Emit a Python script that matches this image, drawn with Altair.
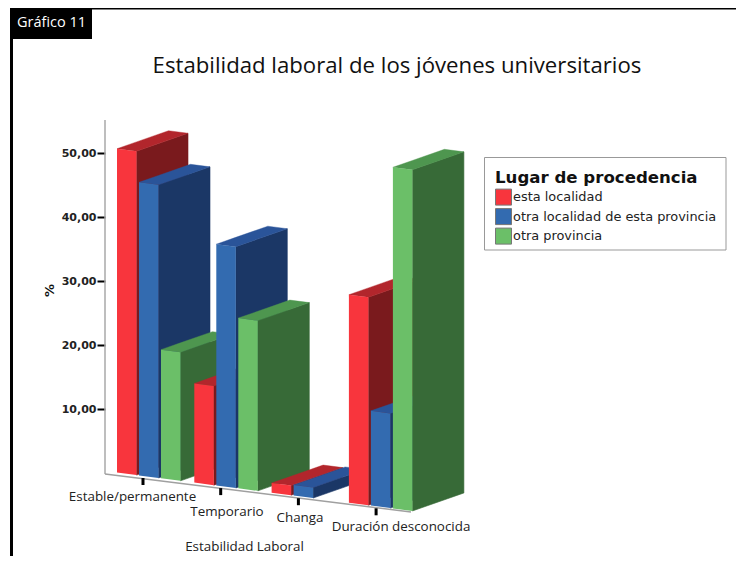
import altair as alt
import pandas as pd

categories = ["Estable/permanente", "Temporario", "Changa", "Duración desconocida"]
origins = ["esta localidad", "otra localidad de esta provincia", "otra provincia"]
esta_localidad = [50.6, 15.5, 1.5, 32.5]
otra_localidad = [45.8, 37.7, 1.65, 14.8]
otra_provincia = [20.1, 26.6, None, 53.3]
y_ticks = [10, 20, 30, 40, 50]

front_colors = ["#f8353d", "#336bb0", "#6bbf68"]
side_colors = ["#7a1a1d", "#1b3766", "#376a37"]
top_colors = ["#b2262c", "#2a5499", "#4e964f"]

W, H = 728, 548
PX = 6.4            # pixels per percent point
ZERO_Y = 473        # page y of 0 %
to_pct = lambda page_y: (ZERO_Y - page_y) / PX

xs = alt.Scale(domain=[8, 8 + W], range=[0, W], nice=False, zero=False)
ys = alt.Scale(domain=[to_pct(8 + H), to_pct(8)], range=[H, 0], nice=False, zero=False)
color_enc = alt.Color("lugar:N", scale=alt.Scale(domain=origins, range=front_colors),
                      legend=alt.Legend(title="Lugar de procedencia", orient="none",
                                        legendX=477, legendY=152))

X = alt.X("x:Q", scale=xs, axis=None)
Y = alt.Y("y:Q", scale=ys, axis=None)
Y2 = alt.Y2("y2:Q")


def base(x):
    return to_pct(471 + 0.13 * (x - 105))


def bar_layers(i, j, value):
    bw, dx, dy = 19.5, 51.5, 18 / PX
    xl = 117 + 77.3 * i + 22 * j
    xr = xl + bw
    top = lambda x: base(x) + value
    bot = lambda x: base(x)
    side = pd.DataFrame({"x": [xr, xr + dx],
                         "y": [top(xr), top(xr) + dy],
                         "y2": [bot(xr), bot(xr) + dy]})
    # top face: parallelogram described as upper/lower edges over four x stops
    front_edge = lambda x: top(xl) + (top(xr) - top(xl)) * (x - xl) / bw if x <= xr else top(xr) + dy * (x - xr) / dx
    back_edge = lambda x: top(xl) + dy * (x - xl) / dx if x <= xl + dx else top(xl) + dy + (top(xr) - top(xl)) * (x - xl - dx) / bw
    stops = [xl, xr, xl + dx, xr + dx]
    topf = pd.DataFrame({"x": stops,
                         "y": [back_edge(s) for s in stops],
                         "y2": [front_edge(s) for s in stops]})
    front = pd.DataFrame({"x": [xl, xr], "y": [top(xl), top(xr)], "y2": [bot(xl), bot(xr)],
                          "lugar": [origins[j]] * 2})
    return [
        alt.Chart(side).mark_area(orient="vertical", color=side_colors[j], stroke=side_colors[j], strokeWidth=0.6)
        .encode(x=X, y=Y, y2=Y2),
        alt.Chart(topf).mark_area(orient="vertical", color=top_colors[j], stroke=top_colors[j], strokeWidth=0.4)
        .encode(x=X, y=Y, y2=Y2),
        alt.Chart(front).mark_area(orient="vertical").encode(x=X, y=Y, y2=Y2, color=color_enc),
    ]


layers = []

# axes carried by an invisible layer
axis_df = pd.DataFrame({"x": [105], "y": [0]})
layers.append(
    alt.Chart(axis_df).mark_point(opacity=0).encode(
        x=alt.X("x:Q", scale=xs, title="Estabilidad Laboral",
                axis=alt.Axis(labels=False, ticks=False, domain=False, grid=False,
                              titleX=236, titleY=-17, titleFont="Open Sans", titleFontSize=13.4,
                              titleFontWeight="normal", titleColor="#222", titleAnchor="middle",
                              titleAlign="center")),
        y=alt.Y("y:Q", scale=ys, title="%",
                axis=alt.Axis(values=y_ticks, offset=-97, domain=False, grid=False,
                              tickSize=8, tickWidth=2, tickColor="#000", labelPadding=1,
                              labelFont="DejaVu Sans", labelFontSize=11, labelFontWeight="bold",
                              labelColor="#222",
                              labelExpr="replace(format(datum.value, '.2f'), '.', ',')",
                              titleFont="DejaVu Sans", titleFontSize=13, titleFontWeight="bold",
                              titleColor="#111", titleAngle=270, titleX=-49, titleY=282)),
    )
)

# y axis line and floor line
layers.append(alt.Chart(pd.DataFrame({"x": [105, 105], "y": [to_pct(120), to_pct(474)]}))
              .mark_line(color="#a8a8a8", strokeWidth=1.5).encode(x=X, y=Y))
layers.append(alt.Chart(pd.DataFrame({"x": [105, 411], "y": [to_pct(474), to_pct(512)]}))
              .mark_line(color="#a0a0a0", strokeWidth=1.5).encode(x=X, y=Y))

# category ticks
for i in range(len(categories)):
    tx = 143 + 77.7 * i
    ty = 478 + 0.13 * (tx - 143)
    layers.append(alt.Chart(pd.DataFrame({"x": [tx], "y": [to_pct(ty)], "y2": [to_pct(ty + 7)]}))
                  .mark_rule(color="#000", strokeWidth=3).encode(x=X, y=Y, y2=Y2))

# bars, painted back to front
series = [esta_localidad, otra_localidad, otra_provincia]
for i in range(len(categories)):
    for j in range(len(origins)):
        if series[j][i] is not None:
            layers.extend(bar_layers(i, j, series[j][i]))

# category labels (staggered as in the source)
label_pos = [(132.5, 497), (227, 512), (300, 518), (401, 527)]
for name, (lx, ly) in zip(categories, label_pos):
    layers.append(alt.Chart(pd.DataFrame({"label": [name]}))
                  .mark_text(font="Open Sans", fontSize=13.4, color="#222", align="center", baseline="middle")
                  .encode(text="label:N", x=alt.value(lx - 8), y=alt.value(ly - 8)))

# legend frame
layers.append(alt.Chart(pd.DataFrame({"a": [0]})).mark_rect(fill="#fff", stroke="#999", strokeWidth=1)
              .encode(x=alt.value(476.5), x2=alt.value(718), y=alt.value(149.5), y2=alt.value(242)))

# page frame and caption tag
layers.append(alt.Chart(pd.DataFrame({"a": [0]})).mark_rect(color="#000")
              .encode(x=alt.value(2), x2=alt.value(5), y=alt.value(0), y2=alt.value(H)))
layers.append(alt.Chart(pd.DataFrame({"a": [0]})).mark_rect(color="#000")
              .encode(x=alt.value(2), x2=alt.value(W), y=alt.value(0), y2=alt.value(1.5)))
layers.append(alt.Chart(pd.DataFrame({"a": [0]})).mark_rect(color="#000")
              .encode(x=alt.value(2), x2=alt.value(84), y=alt.value(0), y2=alt.value(31)))
layers.append(alt.Chart(pd.DataFrame({"label": ["Gráfico 11"]}))
              .mark_text(font="Open Sans", fontSize=14.5, color="#fff", align="left", baseline="middle")
              .encode(text="label:N", x=alt.value(9), y=alt.value(15)))

chart = (
    alt.layer(*layers)
    .resolve_axis(x="independent", y="independent")
    .properties(
        width=W, height=H, padding=0, autosize=alt.AutoSizeParams(type="none"),
        title=alt.TitleParams("Estabilidad laboral de los jóvenes universitarios",
                              font="Open Sans", fontSize=22.2, fontWeight="normal", color="#111",
                              anchor="start", align="center", dx=389, dy=69, offset=0),
    )
    .configure_view(stroke=None)
    .configure_legend(
        titleFont="DejaVu Sans", titleFontSize=16.6, titleFontWeight="bold", titleColor="#111",
        labelFont="DejaVu Sans", labelFontSize=12.9, labelColor="#222", labelOffset=1,
        symbolType="square", symbolSize=256, symbolStrokeColor="#777", symbolStrokeWidth=1,
        rowPadding=-1.5, titlePadding=2, padding=10,
        labelLimit=400, titleLimit=400,
    )
)

chart.save("out.html", embed_options={"renderer": "svg", "actions": False})
